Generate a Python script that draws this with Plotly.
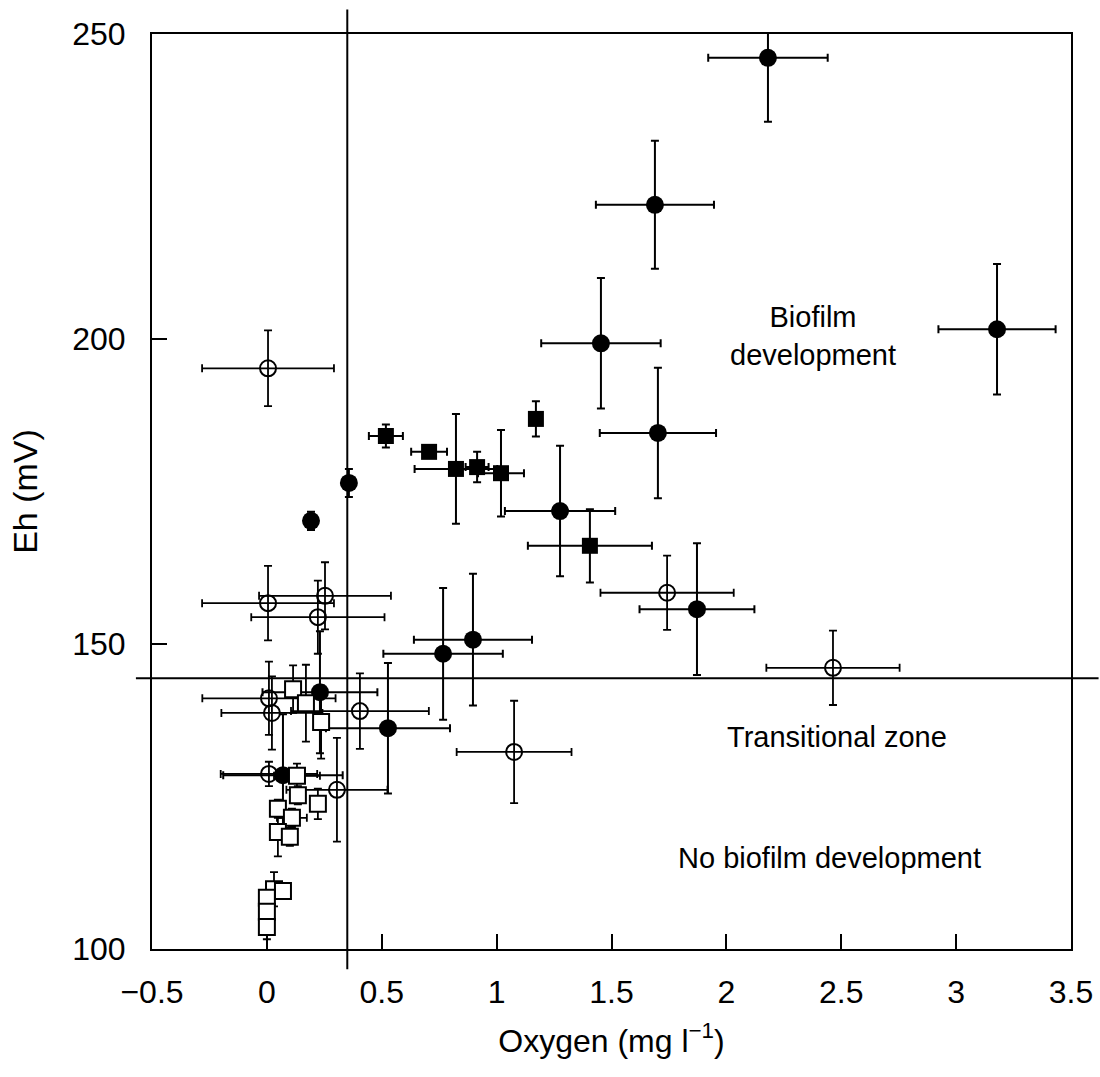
import plotly.graph_objects as go

# ---------------- data ----------------
# Filled circles
fc_x = [2.181, 1.689, 1.454, 1.702, 3.178, 1.276, 1.872, 0.897, 0.767, 0.527, 0.231, 0.070, 0.192, 0.357]
fc_y = [246.1, 222.0, 199.3, 184.6, 201.6, 171.8, 155.7, 150.7, 148.4, 136.2, 142.1, 128.5, 170.2, 176.4]
fc_xe = [0.26, 0.257, 0.26, 0.253, 0.255, 0.24, 0.25, 0.257, 0.26, 0.27, 0.25, 0.26, 0.0, 0.0]
fc_ye = [10.5, 10.5, 10.7, 10.7, 10.7, 10.7, 10.8, 10.8, 10.8, 10.7, 10.0, 10.0, 1.5, 2.3]

# Filled squares
fs_x = [0.518, 0.706, 0.823, 0.915, 1.019, 1.171, 1.406]
fs_y = [184.1, 181.5, 178.7, 179.0, 178.0, 186.9, 166.1]
fs_xe = [0.074, 0.078, 0.18, 0.05, 0.10, 0.0, 0.27]
fs_ye = [1.9, 1.0, 9.0, 2.5, 7.1, 2.9, 6.0]

# Open circles
oc_x = [0.005, 0.005, 0.253, 0.222, 0.009, 0.022, 0.405, 0.009, 0.305, 1.742, 2.464, 1.076]
oc_y = [195.2, 156.7, 157.9, 154.4, 141.1, 138.7, 139.0, 128.7, 126.1, 158.4, 146.1, 132.3]
oc_xe = [0.287, 0.287, 0.287, 0.29, 0.29, 0.22, 0.30, 0.21, 0.22, 0.29, 0.29, 0.25]
oc_ye = [6.2, 6.1, 5.5, 6.0, 6.0, 6.0, 6.2, 2.0, 8.5, 6.1, 6.1, 8.4]

# Open squares
os_x = [0.114, 0.170, 0.236, 0.131, 0.135, 0.222, 0.048, 0.109, 0.048, 0.100, 0.031, 0.070, 0.000, 0.000, 0.000]
os_y = [142.6, 140.3, 137.2, 128.4, 125.2, 123.8, 123.0, 121.5, 119.2, 118.4, 109.8, 109.5, 108.4, 106.1, 103.6]
os_xe = [0.03, 0.02, 0.02, 0.10, 0.03, 0.02, 0.02, 0.065, 0.02, 0.02, 0.02, 0.01, 0.0, 0.0, 0.0]
os_ye = [3.9, 6.3, 6.0, 2.0, 1.5, 2.5, 1.5, 1.5, 4.0, 1.5, 2.8, 1.0, 1.0, 1.0, 2.0]

x_ticks = [-0.5, 0, 0.5, 1, 1.5, 2, 2.5, 3, 3.5]
x_ticktext = ["\u22120.5", "0", "0.5", "1", "1.5", "2", "2.5", "3", "3.5"]
y_ticks = [100, 150, 200, 250]

X_RANGE = [-0.5, 3.5]
Y_RANGE = [100, 250]

# zone boundaries
ZONE_O2 = 0.35
ZONE_EH = 144.4
H_LINE_X = [-0.57, 3.62]
V_LINE_Y = [96.7, 254.0]

labels = [
    ("Biofilm<br>development", 2.377, 200.5),
    ("Transitional zone", 2.481, 134.8),
    ("No biofilm development", 2.447, 114.9),
]

FONT = "Liberation Sans, Arial, Helvetica, sans-serif"


def px(x):
    return (x - X_RANGE[0]) / (X_RANGE[1] - X_RANGE[0])


def py(y):
    return (y - Y_RANGE[0]) / (Y_RANGE[1] - Y_RANGE[0])


def err(arr, thick=2):
    return dict(type="data", array=arr, visible=True, color="black", thickness=thick, width=4)


fig = go.Figure()

fig.add_trace(go.Scatter(
    x=oc_x, y=oc_y, mode="markers",
    marker=dict(symbol="circle-open", size=16, color="black", line=dict(width=2, color="black")),
    error_x=err(oc_xe, 1.8), error_y=err(oc_ye, 1.8), showlegend=False))

fig.add_trace(go.Scatter(
    x=fc_x, y=fc_y, mode="markers",
    marker=dict(symbol="circle", size=18, color="black"),
    error_x=err(fc_xe, 2), error_y=err(fc_ye, 2), showlegend=False))

fig.add_trace(go.Scatter(
    x=fs_x, y=fs_y, mode="markers",
    marker=dict(symbol="square", size=16, color="black"),
    error_x=err(fs_xe, 2), error_y=err(fs_ye, 2), showlegend=False))

fig.add_trace(go.Scatter(
    x=os_x, y=os_y, mode="markers",
    marker=dict(symbol="square", size=16, color="white", line=dict(width=2, color="black")),
    error_x=err(os_xe, 1.8), error_y=err(os_ye, 1.8), showlegend=False))

shapes = [
    dict(type="line", xref="paper", yref="paper",
         x0=px(H_LINE_X[0]), x1=px(H_LINE_X[1]), y0=py(ZONE_EH), y1=py(ZONE_EH),
         line=dict(color="black", width=2)),
    dict(type="line", xref="paper", yref="paper",
         x0=px(ZONE_O2), x1=px(ZONE_O2), y0=py(V_LINE_Y[0]), y1=py(V_LINE_Y[1]),
         line=dict(color="black", width=2)),
]

annotations = [
    dict(text=t, x=x, y=y, xref="x", yref="y", showarrow=False,
         font=dict(family=FONT, size=29, color="black"), align="center")
    for t, x, y in labels
]

fig.update_layout(
    width=1100, height=1077,
    margin=dict(l=152, r=29, t=34, b=128),
    paper_bgcolor="white", plot_bgcolor="white",
    font=dict(family=FONT, color="black"),
    shapes=shapes, annotations=annotations,
    showlegend=False,
)

fig.update_xaxes(
    range=X_RANGE, tickvals=x_ticks, ticktext=x_ticktext,
    ticks="inside", ticklen=15, tickwidth=2, tickcolor="black",
    showline=True, linewidth=2, linecolor="black", mirror=True,
    showgrid=False, zeroline=False, automargin=False,
    tickfont=dict(family=FONT, size=32, color="black"),
    ticklabelstandoff=14,
    title=dict(text="Oxygen (mg l<sup>\u22121</sup>)", font=dict(family=FONT, size=32, color="black"), standoff=20),
)

fig.update_yaxes(
    range=Y_RANGE, tickvals=y_ticks,
    ticks="inside", ticklen=15, tickwidth=2, tickcolor="black",
    showline=True, linewidth=2, linecolor="black", mirror=True,
    showgrid=False, zeroline=False, automargin=False,
    tickfont=dict(family=FONT, size=32, color="black"),
    ticklabelstandoff=18,
    title=dict(text="Eh (mV)", font=dict(family=FONT, size=34, color="black"), standoff=24),
)

fig.write_html("out.html")
